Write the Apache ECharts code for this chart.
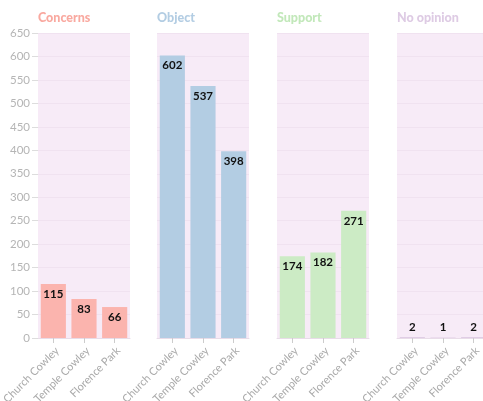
<!DOCTYPE html>
<html><head><meta charset="utf-8">
<script src="https://cdn.jsdelivr.net/npm/echarts@6/dist/echarts.min.js"></script>
<style>html,body{margin:0;padding:0;background:#fff}#c{width:483px;height:401px}</style>
</head><body><div id="c"></div>
<script>
const panels = ['Concerns', 'Object', 'Support', 'No opinion'];
const categories = ['Church Cowley', 'Temple Cowley', 'Florence Park'];
const concerns = [115, 83, 66];
const object = [602, 537, 398];
const support = [174, 182, 271];
const noOpinion = [2, 1, 2];
const yTicks = [0, 50, 100, 150, 200, 250, 300, 350, 400, 450, 500, 550, 600, 650];

const values = [concerns, object, support, noOpinion];
const colors = ['#fbb4ae', '#b3cde3', '#ccebc5', '#decbe4'];
const titleColors = ['#f9a9a0', '#b3cde3', '#c2e8ba', '#decbe4'];
const lefts = [38, 157, 277, 397];
const font = 'Lato, "Source Sans Pro", sans-serif';

const chart = echarts.init(document.getElementById('c'));
const option = {
  animation: false,
  textStyle: {fontFamily: font},
  title: panels.map((p, i) => ({
    text: p, left: lefts[i], top: 11, padding: 0,
    textStyle: {fontFamily: font, fontSize: 12.5, fontWeight: 900, color: titleColors[i]}
  })),
  grid: panels.map((p, i) => ({
    left: lefts[i], width: 92, top: 33, bottom: 63,
    containLabel: false, outerBoundsMode: 'none',
    show: true, backgroundColor: '#f7ebf7', borderWidth: 0
  })),
  xAxis: panels.map((p, i) => ({
    type: 'category', gridIndex: i, data: categories,
    axisLine: {show: true, lineStyle: {color: '#e8dce8'}},
    axisTick: {show: true, alignWithLabel: true, length: 5, lineStyle: {color: '#cccccc'}},
    axisLabel: {rotate: 45, color: '#aaaaaa', fontSize: 11, fontFamily: font, margin: 7,
                verticalAlign: 'top', interval: 0}
  })),
  yAxis: panels.map((p, i) => ({
    type: 'value', gridIndex: i, min: yTicks[0], max: yTicks[yTicks.length - 1], interval: 50,
    axisLine: {show: false},
    axisTick: {show: i === 0, length: 6, lineStyle: {color: '#dddddd'}},
    axisLabel: {show: i === 0, color: '#b5b5b5', fontSize: 11.5, fontFamily: font, margin: 8},
    splitLine: {show: true, lineStyle: {color: '#f0e2f0', width: 1}}
  })),
  series: panels.map((p, i) => ({
    type: 'bar', xAxisIndex: i, yAxisIndex: i,
    barCategoryGap: '18%',
    itemStyle: {color: colors[i]},
    data: values[i].map(v => v < 20 ? {value: v, label: {position: 'top', distance: 4}} : v),
    label: {show: true, position: 'insideTop', distance: 4, color: '#111', fontWeight: 'bold',
            fontSize: 11.5, fontFamily: font}
  }))
};
chart.setOption(option);
</script></body></html>
